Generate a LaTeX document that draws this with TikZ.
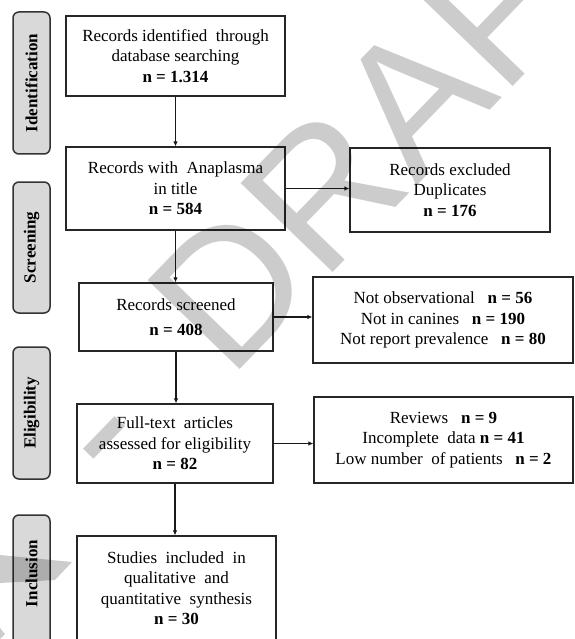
\documentclass[tikz,border=0pt]{standalone}
\usepackage{fontspec}
\setmainfont{Liberation Serif}
\newfontfamily\wmfont{Liberation Sans}
\usetikzlibrary{arrows.meta}
\begin{document}
\begin{tikzpicture}[x=1pt,y=-1pt,
  every node/.style={font=\fontsize{17}{20.5}\selectfont},
  flowbox/.style={draw=black!85, line width=1.2pt, align=center, inner sep=0pt, anchor=center},
  stagelabel/.style={draw=black!80, line width=1.5pt, fill=black!15, rounded corners=6pt,
     rotate=90, minimum height=37pt, inner sep=0pt, anchor=center, font=\fontsize{17}{20.5}\selectfont\bfseries},
  arr/.style={draw=black!90, line width=1.4pt, -{Latex[length=5pt,width=4.5pt]}},
  wm/.style={fill=black, opacity=0.2, draw=none}]
\useasboundingbox (0,0) rectangle (574,639);
\clip (0,0) rectangle (574,639);

% stage labels
\node[stagelabel, minimum width=142pt] (l1) at (31.5,83) {Identification};
\node[stagelabel, minimum width=131pt] (l2) at (31.5,247.5) {Screening};
\node[stagelabel, minimum width=132pt] (l3) at (31.5,413) {Eligibility};
\node[stagelabel, minimum width=150pt] (l4) at (31.5,590) {\hspace*{33pt}Inclusion};

% main column
\node[flowbox, minimum width=219pt, minimum height=80pt] (b1) at (175.5,56)
  {Records identified \ through\\database searching\\\textbf{n = 1.314}};
\node[flowbox, minimum width=219pt, minimum height=83pt] (b2) at (175.5,188.5)
  {Records with \ Anaplasma\\in title\\\textbf{n = 584}};
\node[flowbox, minimum width=194pt, minimum height=68pt] (b3) at (176,317)
  {Records screened\\[4pt]\textbf{n = 408}};
\node[flowbox, minimum width=196pt, minimum height=79pt] (b4) at (175,443.5)
  {Full-text \ articles\\assessed for eligibility\\\textbf{n = 82}};
\node[flowbox, minimum width=199pt, minimum height=104pt] (b5) at (176.5,588)
  {Studies \ included \ in\\qualitative \ and\\quantitative \ synthesis\\\textbf{n = 30}};

% right column
\node[flowbox, minimum width=200pt, minimum height=84pt] (r1) at (450,190)
  {Records excluded\\Duplicates\\\textbf{n = 176}};
\node[flowbox, minimum width=260pt, minimum height=86pt] (r2) at (443,320)
  {Not observational \enspace\textbf{n = 56}\\Not in canines \enspace\textbf{n = 190}\\Not report prevalence \enspace\textbf{n = 80}};
\node[flowbox, minimum width=259pt, minimum height=86pt] (r3) at (443.5,440)
  {Reviews \enspace\textbf{n = 9}\\Incomplete \ data \textbf{n = 41}\\Low number \ of patients \enspace\textbf{n = 2}};

% connectors
\draw[arr] (b1.south) -- (b1.south |- b2.north);
\draw[arr] (b2.south) -- (b2.south |- b3.north);
\draw[arr] (b3.south) -- (b3.south |- b4.north);
\draw[arr] (b4.south) -- (b4.south |- b5.north);
\draw[arr] (b2.east) -- (b2.east -| r1.west);
\draw[arr] (b3.east) -- (b3.east -| r2.west);
\draw[arr] (b4.east) -- (b4.east -| r3.west);

% watermark
\node[rotate=46, anchor=base west, inner sep=0pt, text=black, text opacity=0.2,
  font=\wmfont\fontsize{186}{186}\selectfont] (wmark) at (118.3,495.1) {-\hspace{97.9pt}DRAFT};
\path[wm] (0,555) -- (72,562) -- (55,580) -- (0,583) -- cycle;
\path[wm] (0,628) -- (5,634) -- (0,639) -- cycle;
\end{tikzpicture}
\end{document}
